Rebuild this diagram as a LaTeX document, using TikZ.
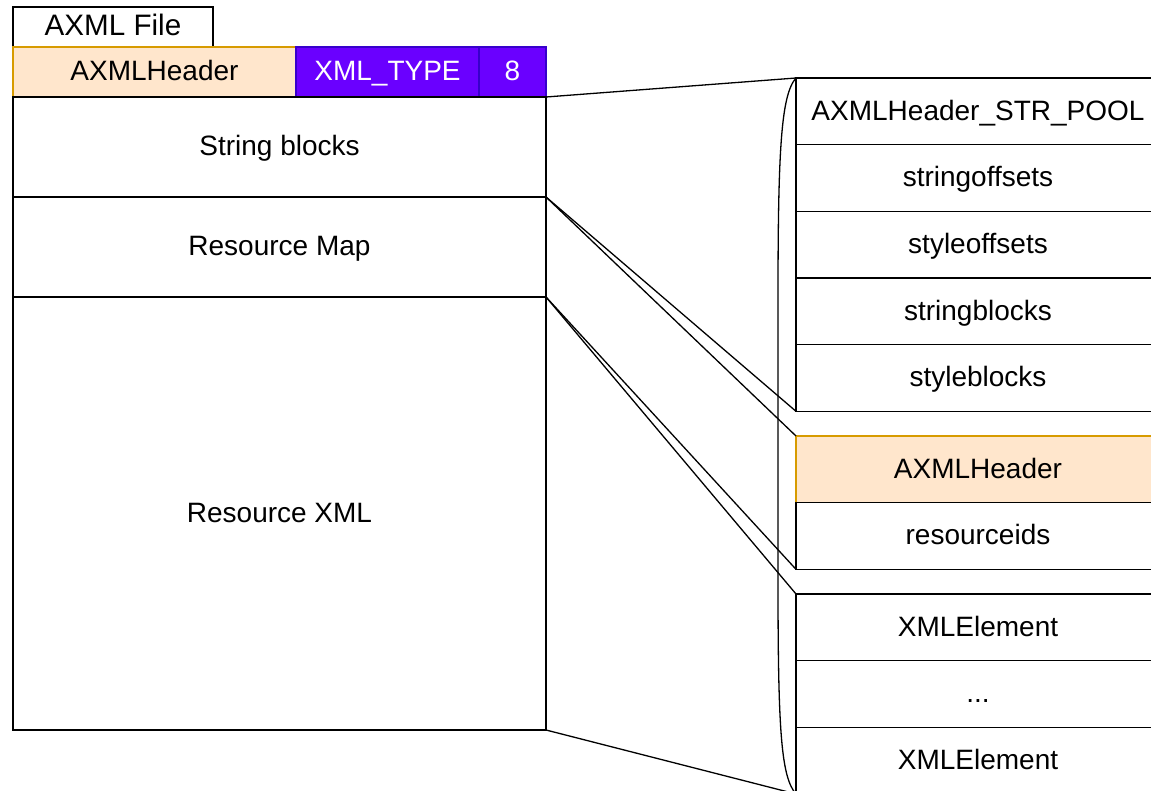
\documentclass[tikz,border=0pt]{standalone}
\usepackage{fontspec}
\setmainfont{Liberation Sans}
\usetikzlibrary{positioning}

\definecolor{hdrfill}{HTML}{FFE6CC}
\definecolor{hdrline}{HTML}{D79B00}
\definecolor{typefill}{HTML}{6A00FF}
\definecolor{typeline}{HTML}{3700CC}

\begin{document}
\begin{tikzpicture}[x=0.5pt, y=-0.5pt, line width=0.65pt,
		box/.style={draw=black, fill=white, inner sep=0pt, outer sep=0pt, text height=11pt, text depth=2pt, font=\fontsize{14}{16}\selectfont},
		hdrbox/.style={box, draw=hdrline, fill=hdrfill},
		typebox/.style={box, draw=typeline, fill=typefill, text=white},
		col/.style={box, minimum width=182pt, minimum height=33.33pt}]
		\useasboundingbox (0,0) rectangle (1151,791);

		% left: the file
		\node (file) [box, anchor=north west, minimum width=100pt, minimum height=20pt, font=\fontsize{14.8}{17}\selectfont] at (13,7) {AXML File};
		\node (hdr) [hdrbox, anchor=north west, minimum width=141.5pt, minimum height=25pt] at (13,47) {AXMLHeader};
		\node (type) [typebox, right=0pt of hdr, minimum width=91.5pt, minimum height=25pt] {XML\_TYPE};
		\node (eight) [typebox, right=0pt of type, minimum width=33.5pt, minimum height=25pt] {8};
		\node (strblk) [box, anchor=north west, minimum width=266.5pt, minimum height=50pt] at (13,97) {String blocks};
		\node (resmap) [box, below=0pt of strblk, minimum width=266.5pt, minimum height=50pt] {Resource Map};
		\node (resxml) [box, below=0pt of resmap, minimum width=266.5pt, minimum height=216.5pt] {Resource XML};

		% right: the parts
		\node (pool) [col, anchor=north west] at (796,78) {AXMLHeader\_STR\_POOL};
		\node (stroffs) [col, below=0pt of pool] {stringoffsets};
		\node (styoffs) [col, below=0pt of stroffs] {styleoffsets};
		\node (strblks) [col, below=0pt of styoffs] {stringblocks};
		\node (styblks) [col, below=0pt of strblks] {styleblocks};

		\node (maphdr) [col, hdrbox, anchor=north west] at (796,436) {AXMLHeader};
		\node (resids) [col, below=0pt of maphdr] {resourceids};

		\node (elemA) [col, anchor=north west] at (796,594) {XMLElement};
		\node (dots) [col, below=0pt of elemA] {...};
		\node (elemB) [col, below=0pt of dots] {XMLElement};

		\draw (strblk.north east) -- (pool.north west);
		\draw (strblk.south east) -- (styblks.south west);
		\draw (resmap.north east) -- (maphdr.north west);
		\draw (resmap.south east) -- (resids.south west);
		\draw (resxml.north east) -- (elemA.north west);
		\draw (resxml.south east) -- (elemB.south west);

		\draw (pool.north west) .. controls (781,95) and (778,150) .. (778,300) -- (778,580) .. controls (778,730) and (781,777) .. (elemB.south west);
	\end{tikzpicture}
\end{document}
